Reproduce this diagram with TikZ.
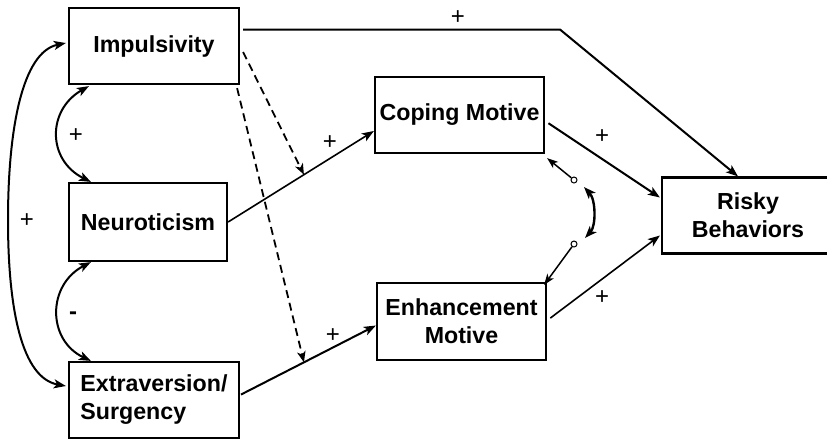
\documentclass[tikz,border=0pt]{standalone}
\usepackage{fontspec}
\setmainfont{Liberation Sans}
\usetikzlibrary{arrows.meta,calc}
\begin{document}
\begin{tikzpicture}[x=1pt,y=-1pt,
  box/.style={draw,line width=2.2pt,inner sep=2pt,align=center,
    font=\fontsize{23.2}{28}\selectfont\bfseries},
  arr/.style={line width=2pt,-{Stealth[length=12pt,width=9pt,inset=3pt]}},
  thinarr/.style={line width=1.6pt,-{Stealth[length=12pt,width=9pt,inset=3pt]}},
  dasharr/.style={line width=1.8pt,dash pattern=on 8pt off 5pt,-{Stealth[length=11pt,width=8.5pt,inset=3pt]}},
  corr/.style={line width=2pt,{Stealth[length=12pt,width=9pt,inset=3pt]}-{Stealth[length=12pt,width=9pt,inset=3pt]}},
  lab/.style={font=\fontsize{24}{26}\selectfont,inner sep=0pt},
  dot/.style={circle,draw,line width=1pt,inner sep=0pt,minimum size=6pt}]
\useasboundingbox (0,0) rectangle (827,440);
\clip (0,0) rectangle (827,440);

\node[box,minimum width=170pt,minimum height=76pt] (imp) at (154,46) {Impulsivity};
\node[box,minimum width=158pt,minimum height=78pt] (neu) at (148,222) {Neuroticism};
\node[box,minimum width=170pt,minimum height=76pt,align=left] (ext) at (154,400) {Extraversion/\\Surgency};
\node[box,minimum width=169pt,minimum height=76pt] (cop) at (459.5,115) {Coping Motive};
\node[box,minimum width=169pt,minimum height=77pt] (enh) at (461.5,321.5) {Enhancement\\Motive};
\node[box,minimum width=172pt,minimum height=76pt] (risk) at (748,215.5) {Risky\\Behaviors};

% direct paths
\coordinate (corner) at (560,29.5);
\draw[arr,shorten <=3pt] ([yshift=16.5pt]imp.east) -- (corner) -- ([xshift=-10pt]risk.north);
\draw[thinarr] (neu.east) -- coordinate[pos=0.52] (m1) ([yshift=-16pt]cop.west);
\draw[arr,shorten <=1pt] ([yshift=5pt]ext.east) -- coordinate[pos=0.47] (m2) ([yshift=-4pt]enh.west);
\draw[arr,shorten <=4pt] ([yshift=-6pt]cop.east) -- ([yshift=18pt,xshift=-1pt]risk.west);
\draw[thinarr,shorten <=4pt] ([yshift=1pt]enh.east) -- ([yshift=-20pt,xshift=-1pt]risk.west);

% moderation (dashed)
\draw[dasharr] ([xshift=3pt,yshift=-6pt]imp.east) -- (m1);
\draw[dasharr] ([xshift=-3pt,yshift=-3pt]imp.south east) -- (m2);

% correlations among predictors
\draw[corr] ([xshift=21pt,yshift=-1pt]imp.south west) .. controls (47,110) and (47,160) .. ([xshift=23pt]neu.north west);
\draw[corr] ([xshift=23pt]neu.south west) .. controls (47,285) and (47,340) .. ([xshift=23pt]ext.north west);
\draw[corr] ([xshift=-2pt,yshift=3pt]imp.west) .. controls (22,52) and (8,130) .. (8,220)
  .. controls (8,310) and (22,378) .. ([xshift=-2pt,yshift=14pt]ext.west);

% correlation between motives
\node[dot] (o1) at (574,180) {};
\node[dot] (o2) at (574,244) {};
\draw[line width=1.5pt,-{Stealth[length=11pt,width=8pt,inset=3pt]}] (o1) -- ([xshift=2pt,yshift=-4pt]cop.south east);
\draw[line width=1.5pt,-{Stealth[length=11pt,width=8pt,inset=3pt]}] (o2) -- ([xshift=-3pt,yshift=-3pt]enh.north east);
\draw[corr,line width=2.4pt] ($(o1)+(10,7)$) .. controls (596,200) and (596,226) .. ($(o2)+(11,-6)$);

% signs
\node[lab] (l1) at (458,18) {+};
\node[lab] (l2) at (330,143) {+};
\node[lab] (l3) at (333,336) {+};
\node[lab] (l4) at (602,137) {+};
\node[lab] (l5) at (602,298) {+};
\node[lab] (l6) at (76,136) {+};
\node[lab,font=\fontsize{24}{26}\selectfont\bfseries] (l7) at (73,316) {-};
\node[lab] (l8) at (27,221) {+};
\end{tikzpicture}
\end{document}
